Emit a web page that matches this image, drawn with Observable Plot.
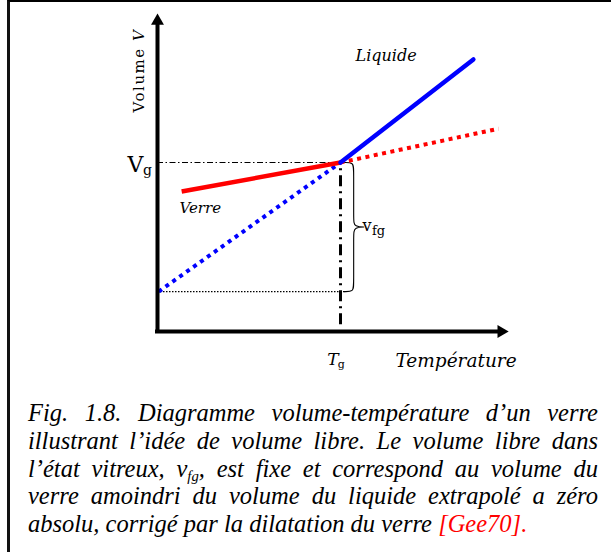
<!DOCTYPE html>
<html>
<head>
<meta charset="utf-8">
<script src="https://cdn.jsdelivr.net/npm/d3@7"></script>
<script src="https://cdn.jsdelivr.net/npm/@observablehq/plot@0.6"></script>
<style>
  html, body { margin: 0; padding: 0; background: #fff; }
  #page { position: relative; width: 611px; height: 552px; overflow: hidden; background: #fff; }
  #chart { position: absolute; left: 0; top: 0; }
  #frame { position: absolute; left: 7px; top: 0; width: 604px; height: 552px;
           border-top: 2px solid #000; border-left: 3px solid #111; box-sizing: border-box; pointer-events: none; }
  #caption { position: absolute; left: 28px; top: 399px; width: 570px;
             font-family: "Liberation Serif", "Times New Roman", serif; font-style: italic;
             font-size: 24.5px; line-height: 27.75px; color: #000; }
  #caption .l { text-align: justify; text-align-last: justify; white-space: nowrap; }
  #caption .last { text-align: left; text-align-last: left; white-space: nowrap; }
  #caption sub { font-size: 0.6em; line-height: 0; vertical-align: -0.25em; }
  #caption .ref { color: #ff0000; }
</style>
</head>
<body>
<div id="page">
  <div id="chart"></div>
  <div id="caption"></div>
  <div id="frame"></div>
</div>
<script>
// ---- Data ----
const Tg = 5.0;          // glass transition temperature (arbitrary units)
const Vg = 5.0;          // volume at Tg
const Vfg = 1.18;        // liquid volume extrapolated to absolute zero

const glassT = [0.66, 5.0];      // solid red: glass
const glassV = [4.14, 5.0];
const glassExtT = [5.0, 9.32];   // dotted red: glass extrapolated
const glassExtV = [5.0, 6.0];
const liquidT = [5.0, 8.63];     // solid blue: liquid
const liquidV = [5.0, 8.05];
const liquidExtT = [0.03, 5.0];  // dotted blue: liquid extrapolated
const liquidExtV = [1.18, 5.0];
const axisT = [0, 9.29];         // temperature axis extent
const axisV = [0, 9.08];         // volume axis extent

const labelLiquid = "Liquide";
const labelGlass = "Verre";
const labelXAxis = "Température";
const labelYAxis = "Volume V";
const captionLines = [
  "Fig. 1.8. Diagramme volume-température d’un verre",
  "illustrant l’idée de volume libre. Le volume libre dans",
  "l’état vitreux, v<sub>fg</sub>, est fixe et correspond au volume du",
  "verre amoindri du volume du liquide extrapolé a zéro"
];
const captionLast = "absolu, corrigé par la dilatation du verre ";
const captionRef = "[Gee70].";

// ---- helpers ----
const pts = (ts, vs) => ts.map((t, i) => ({T: t, V: vs[i]}));

// curly brace built from Tg, Vg, Vfg
const mid = (Vg + Vfg) / 2;
const xe = Tg + 0.1, xb = Tg + 0.36, xt = Tg + 0.77, r = 0.22;
const brace = [
  {T: xe, V: Vg}, {T: xb, V: Vg}, {T: xb, V: Vg - r},
  {T: xb, V: mid + r}, {T: xb, V: mid}, {T: xt, V: mid}, {T: xb, V: mid},
  {T: xb, V: mid - r}, {T: xb, V: Vfg + r}, {T: xb, V: Vfg}, {T: xe, V: Vfg}
];

const serif = "DejaVu Serif";

const svg = Plot.plot({
  width: 611,
  height: 375,
  x: {domain: [0, 10], range: [157, 523], axis: null},
  y: {domain: [0, 10], range: [331, -7], axis: null},
  style: {background: "transparent", overflow: "visible"},
  marks: [
    // guide lines
    Plot.ruleY([Vg], {x1: 0, x2: Tg, stroke: "#000", strokeWidth: 1.1, strokeDasharray: "6,2.5,1.5,2.5"}),
    Plot.ruleY([Vfg], {x1: 0, x2: Tg + 0.12, stroke: "#000", strokeWidth: 1.1, strokeDasharray: "1.5,1.5"}),
    Plot.ruleX([Tg], {y1: 0.2, y2: Vg, stroke: "#000", strokeWidth: 3, strokeDasharray: "11,5,2,5"}),
    Plot.line(brace, {x: "T", y: "V", curve: "basis", stroke: "#000", strokeWidth: 1.1}),
    // extrapolations (dotted, square dots)
    Plot.line(pts(liquidExtT, liquidExtV), {x: "T", y: "V", stroke: "#0000ff", strokeWidth: 4, strokeDasharray: "4,4.5", strokeLinecap: "butt"}),
    Plot.line(pts(glassExtT, glassExtV), {x: "T", y: "V", stroke: "#ff0000", strokeWidth: 4, strokeDasharray: "4,4.5", strokeLinecap: "butt"}),
    // solid branches
    Plot.line(pts(glassT, glassV), {x: "T", y: "V", stroke: "#ff0000", strokeWidth: 4.5, strokeLinecap: "butt"}),
    Plot.line(pts(liquidT, liquidV), {x: "T", y: "V", stroke: "#0000ff", strokeWidth: 4.5, strokeLinecap: "round"}),
    // axes with arrowheads
    Plot.ruleX([axisT[0]], {y1: axisV[0], y2: axisV[1], stroke: "#000", strokeWidth: 4, strokeLinecap: "square"}),
    Plot.ruleY([axisV[0]], {x1: axisT[0], x2: axisT[1], stroke: "#000", strokeWidth: 4, strokeLinecap: "square"}),
    Plot.dot([{T: axisT[0], V: axisV[1]}], {x: "T", y: "V", symbol: "triangle", r: 4.8, fill: "#000", stroke: null, dy: -3.7}),
    Plot.dot([{T: axisT[1], V: axisV[0]}], {x: "T", y: "V", symbol: "triangle", r: 4.8, fill: "#000", stroke: null, rotate: 90, dx: 3.7}),
    // labels
    Plot.text([labelLiquid], {x: 5.41, y: 7.99, text: d => d, textAnchor: "start", lineAnchor: "bottom", fontFamily: serif, fontStyle: "italic", fontSize: 16, fill: "#000"}),
    Plot.text([labelGlass], {x: 0.6, y: 3.52, text: d => d, textAnchor: "start", lineAnchor: "bottom", fontFamily: serif, fontStyle: "italic", fontSize: 15, fill: "#000"}),
    Plot.text([labelXAxis], {x: 6.5, y: -1.04, text: d => d, textAnchor: "start", lineAnchor: "bottom", fontFamily: serif, fontStyle: "italic", fontSize: 18.5, fill: "#000"}),
    Plot.text([labelYAxis], {x: -0.38, y: 7.72, text: d => d, rotate: -90, textAnchor: "middle", lineAnchor: "bottom", fontFamily: serif, fontSize: 15, fill: "#000"}),
    // V_g
    Plot.text(["V"], {x: -0.82, y: 4.73, text: d => d, textAnchor: "start", lineAnchor: "bottom", fontFamily: serif, fontSize: 22, fill: "#000"}),
    Plot.text(["g"], {x: -0.82, y: 4.73, dx: 15.5, dy: 3, text: d => d, textAnchor: "start", lineAnchor: "bottom", fontFamily: serif, fontSize: 14, fill: "#000"}),
    // T_g
    Plot.text(["T"], {x: 4.64, y: -1.0, text: d => d, textAnchor: "start", lineAnchor: "bottom", fontFamily: serif, fontStyle: "italic", fontSize: 17, fill: "#000"}),
    Plot.text(["g"], {x: 4.64, y: -1.0, dx: 10.5, dy: 3, text: d => d, textAnchor: "start", lineAnchor: "bottom", fontFamily: serif, fontSize: 11, fill: "#000"}),
    // v_fg
    Plot.text(["v"], {x: 5.6, y: 2.96, text: d => d, textAnchor: "start", lineAnchor: "bottom", fontFamily: serif, fontSize: 16, fill: "#000"}),
    Plot.text(["fg"], {x: 5.6, y: 2.96, dx: 9.5, dy: 4, text: d => d, textAnchor: "start", lineAnchor: "bottom", fontFamily: serif, fontSize: 13, fill: "#000"})
  ]
});

// letter spacing + italic final V on the y-axis title
d3.select(svg).selectAll("text").each(function () {
  if (this.textContent === labelYAxis) {
    const parts = labelYAxis.split(" ");
    this.textContent = "";
    this.setAttribute("letter-spacing", "1.5");
    const sel = d3.select(this);
    sel.append("tspan").text(parts[0] + " ");
    sel.append("tspan").attr("font-style", "italic").text(parts[1]);
  }
});

document.getElementById("chart").appendChild(svg);

const cap = document.getElementById("caption");
cap.innerHTML = captionLines.map(l => `<div class="l">${l}</div>`).join("") +
  `<div class="last">${captionLast}<span class="ref">${captionRef}</span></div>`;
</script>
</body>
</html>
